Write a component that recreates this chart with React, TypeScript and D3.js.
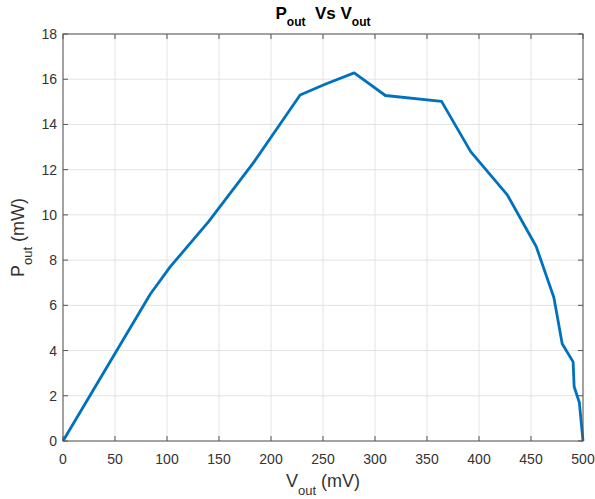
import React, { useEffect, useRef } from 'react';
import * as d3 from 'd3';

// measured Vout (mV) and Pout (mW)
const vOut = [0, 84, 103, 140, 183, 228, 252, 280, 310, 364, 392, 427, 455, 472, 480, 490.5, 491.5, 496.5, 500];
const pOut = [0, 6.5, 7.7, 9.7, 12.3, 15.3, 15.78, 16.28, 15.28, 15.02, 12.8, 10.9, 8.6, 6.35, 4.3, 3.5, 2.4, 1.7, 0];
const xTicks = [0, 50, 100, 150, 200, 250, 300, 350, 400, 450, 500];
const yTicks = [0, 2, 4, 6, 8, 10, 12, 14, 16, 18];

const W = 595, H = 499;
const margin = { top: 34, right: 12, bottom: 58, left: 63 };

const App = () => {
  const ref = useRef<SVGSVGElement>(null);

  useEffect(() => {
    const svg = d3.select(ref.current);
    svg.selectAll('*').remove();

    const x = d3.scaleLinear().domain([0, 500]).range([margin.left, W - margin.right]);
    const y = d3.scaleLinear().domain([0, 18]).range([H - margin.bottom, margin.top]);

    const g = svg.append('g').attr('font-family', 'Arial, "Liberation Sans", sans-serif');

    // grid
    g.selectAll('line.gx').data(xTicks).enter().append('line')
      .attr('x1', d => x(d)).attr('x2', d => x(d))
      .attr('y1', y(0)).attr('y2', y(18))
      .attr('stroke', '#e3e3e3').attr('stroke-width', 1);
    g.selectAll('line.gy').data(yTicks).enter().append('line')
      .attr('y1', d => y(d)).attr('y2', d => y(d))
      .attr('x1', x(0)).attr('x2', x(500))
      .attr('stroke', '#e3e3e3').attr('stroke-width', 1);

    // data line
    const line = d3.line<number>().x((d, i) => x(vOut[i])).y(d => y(d));
    g.append('path').datum(pOut)
      .attr('d', line)
      .attr('fill', 'none')
      .attr('stroke', '#0072BD')
      .attr('stroke-width', 2.8)
      .attr('stroke-linejoin', 'round');

    // box
    g.append('rect')
      .attr('x', x(0)).attr('y', y(18))
      .attr('width', x(500) - x(0)).attr('height', y(0) - y(18))
      .attr('fill', 'none').attr('stroke', '#555').attr('stroke-width', 1);

    const tl = 5;
    // ticks inside, both sides
    xTicks.forEach(t => {
      g.append('line').attr('x1', x(t)).attr('x2', x(t)).attr('y1', y(0)).attr('y2', y(0) - tl).attr('stroke', '#555');
      g.append('line').attr('x1', x(t)).attr('x2', x(t)).attr('y1', y(18)).attr('y2', y(18) + tl).attr('stroke', '#555');
      g.append('text').attr('x', x(t)).attr('y', y(0) + 23)
        .attr('text-anchor', 'middle').attr('font-size', 14).attr('fill', '#333').text(t);
    });
    yTicks.forEach(t => {
      g.append('line').attr('y1', y(t)).attr('y2', y(t)).attr('x1', x(0)).attr('x2', x(0) + tl).attr('stroke', '#555');
      g.append('line').attr('y1', y(t)).attr('y2', y(t)).attr('x1', x(500)).attr('x2', x(500) - tl).attr('stroke', '#555');
      g.append('text').attr('x', x(0) - 6).attr('y', y(t) + 5)
        .attr('text-anchor', 'end').attr('font-size', 14).attr('fill', '#333').text(t);
    });

    // title
    const title = g.append('text').attr('x', (x(0) + x(500)) / 2).attr('y', 19)
      .attr('text-anchor', 'middle').attr('font-size', 17).attr('font-weight', 'bold').attr('fill', '#000')
      .attr('xml:space', 'preserve');
    title.append('tspan').text('P');
    title.append('tspan').attr('font-size', 12).attr('dy', 7).text('out');
    title.append('tspan').attr('dy', -7).text('  Vs V');
    title.append('tspan').attr('font-size', 12).attr('dy', 7).text('out');

    // x label
    const xl = g.append('text').attr('x', (x(0) + x(500)) / 2).attr('y', 487)
      .attr('text-anchor', 'middle').attr('font-size', 18).attr('fill', '#333');
    xl.append('tspan').text('V');
    xl.append('tspan').attr('font-size', 13).attr('dy', 8).text('out');
    xl.append('tspan').attr('dy', -8).text(' (mV)');

    // y label
    const yl = g.append('text')
      .attr('transform', `translate(24,${(y(0) + y(18)) / 2}) rotate(-90)`)
      .attr('text-anchor', 'middle').attr('font-size', 18).attr('fill', '#333');
    yl.append('tspan').text('P');
    yl.append('tspan').attr('font-size', 13).attr('dy', 8).text('out');
    yl.append('tspan').attr('dy', -8).text(' (mW)');
  }, []);

  return <svg ref={ref} width={W} height={H} style={{ position: 'absolute', left: 0, top: 0, background: '#fff' }} />;
};

export default App;
